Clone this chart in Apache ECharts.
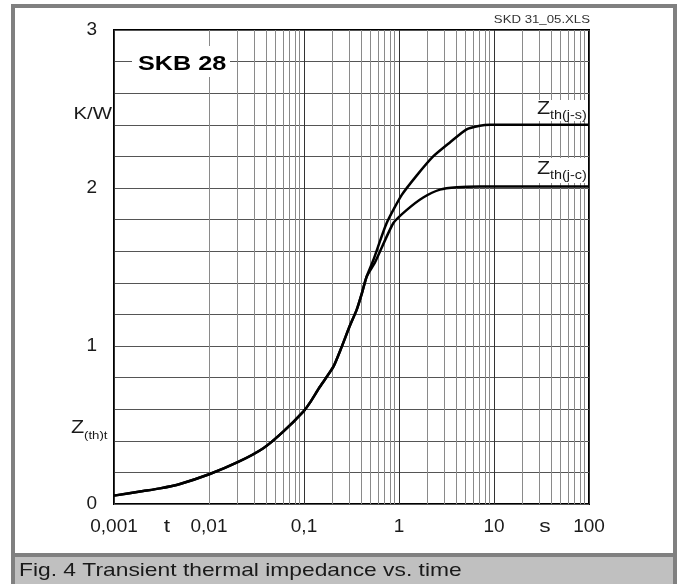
<!DOCTYPE html>
<html>
<head>
<meta charset="utf-8">
<script src="https://cdn.jsdelivr.net/npm/echarts@6/dist/echarts.min.js"></script>
<style>
  html, body { margin: 0; padding: 0; background: #fff; }
  #chart { width: 682px; height: 584px; }
</style>
</head>
<body>
<div id="chart"></div>
<script>
// shared rising part of both curves (t in s, Z in K/W)
const tShared = [0.001, 0.00203, 0.00305, 0.00495, 0.0102, 0.0203, 0.0373, 0.0604, 0.1, 0.115, 0.147, 0.204, 0.25, 0.30, 0.359, 0.405, 0.457];
const zShared = [0.053, 0.082, 0.099, 0.127, 0.19, 0.266, 0.353, 0.458, 0.59, 0.64, 0.742, 0.869, 0.996, 1.12, 1.23, 1.33, 1.44];

// Zth(j-s) tail
const tJs = [0.537, 0.74, 1.07, 1.54, 2.29, 3.46, 5.1, 7.1, 9.1, 100];
const zJs = [1.544, 1.777, 1.956, 2.08, 2.20, 2.29, 2.37, 2.394, 2.40, 2.40];

// Zth(j-c) tail
const tJc = [0.56, 0.87, 1.2, 1.8, 2.7, 4.06, 7.1, 100];
const zJc = [1.53, 1.777, 1.86, 1.94, 1.99, 2.005, 2.01, 2.01];

const decades = [0.001, 0.01, 0.1, 1, 10];
const xTickLabels = { 0.001: '0,001', 0.01: '0,01', 0.1: '0,1', 1: '1', 10: '10', 100: '100' };

const toPairs = (ts, zs) => ts.map((t, i) => [t, zs[i]]);
const jsData = toPairs(tShared, zShared).concat(toPairs(tJs, zJs));
const jcData = toPairs(tShared, zShared).concat(toPairs(tJc, zJc));

// minor vertical grid lines 2..9 in each decade
const minorLines = [];
decades.forEach(d => {
    for (let k = 2; k <= 9; k++) minorLines.push({ xAxis: +(k * d).toPrecision(3) });
});

const font = '"Liberation Sans", Arial, sans-serif';
const ink = '#1a1a1a';
const sx = 1.2; // the source lettering is a bit wider than Arial

// small helper for graphic text
const label = (x, y, text, size, extra) => Object.assign({
    type: 'text', x: x, y: y, scaleX: sx, z: 91,
    style: Object.assign({ text: text, fontSize: size, fontFamily: font, fill: ink, verticalAlign: 'middle' }, extra || {})
});

const chart = echarts.init(document.getElementById('chart'));

chart.setOption({
    animation: false,
    backgroundColor: '#fff',
    grid: {
        left: 114, right: 93, top: 30, bottom: 80,
        show: true, backgroundColor: '#fff', borderColor: '#000', borderWidth: 2
    },
    xAxis: {
        type: 'log', logBase: 10, min: 0.001, max: 100,
        axisLine: { show: false },
        axisTick: { show: false },
        splitLine: { show: true, lineStyle: { color: '#333', width: 1 } },
        axisLabel: {
            margin: 13, fontSize: 19, color: ink, fontFamily: font,
            formatter: v => {
                for (const k in xTickLabels) if (Math.abs(Math.log10(v) - Math.log10(+k)) < 1e-6) return xTickLabels[k];
                return '';
            }
        }
    },
    yAxis: {
        type: 'value', min: 0, max: 3, interval: 0.2,
        axisLine: { show: false },
        axisTick: { show: false },
        splitLine: { show: true, lineStyle: { color: '#555', width: 1 } },
        axisLabel: {
            margin: 17, fontSize: 19, color: ink, fontFamily: font,
            formatter: v => Math.abs(v - Math.round(v)) < 1e-6 ? String(Math.round(v)) : ''
        }
    },
    series: [
        {
            name: 'grid-minor',
            type: 'line',
            data: [],
            silent: true,
            markLine: {
                silent: true,
                symbol: 'none',
                label: { show: false },
                lineStyle: { color: '#8a8a8a', width: 1, type: 'solid' },
                data: minorLines
            }
        },
        {
            name: 'Zth(j-s)',
            type: 'line',
            data: jsData,
            showSymbol: false,
            smooth: 0.2,
            lineStyle: { color: '#000', width: 2.5 },
            z: 5
        },
        {
            name: 'Zth(j-c)',
            type: 'line',
            data: jcData,
            showSymbol: false,
            smooth: 0.2,
            lineStyle: { color: '#000', width: 2.5 },
            z: 5
        }
    ],
    graphic: [
        // outer frame and caption band
        { type: 'rect', shape: { x: 13, y: 6, width: 662, height: 620 }, style: { fill: 'none', stroke: '#808080', lineWidth: 4 }, z: 100 },
        { type: 'rect', shape: { x: 15, y: 557, width: 658, height: 30 }, style: { fill: '#c0c0c0' }, z: 100 },
        { type: 'rect', shape: { x: 15, y: 553, width: 658, height: 4 }, style: { fill: '#808080' }, z: 100 },
        Object.assign(label(19, 571, 'Fig. 4 Transient thermal impedance vs. time', 19), { z: 101 }),

        // file tag
        label(590, 20, 'SKD 31_05.XLS', 11, { align: 'right', fill: '#333' }),

        // device name with white box
        { type: 'rect', shape: { x: 132, y: 46, width: 98, height: 31 }, style: { fill: '#fff' }, z: 90 },
        label(138, 64, 'SKB 28', 21, { fontWeight: 'bold', fill: '#000' }),

        // unit and axis names
        label(112, 114, 'K/W', 17, { align: 'right' }),
        label(71, 428, 'Z', 18),
        label(84, 436, '(th)t', 11),
        label(167, 527, 't', 19, { align: 'center' }),
        label(545, 527, 's', 19, { align: 'center' }),

        // curve labels
        { type: 'rect', shape: { x: 533, y: 100, width: 55, height: 21 }, style: { fill: '#fff' }, z: 90 },
        label(537, 109, 'Z', 18),
        label(550, 116, 'th(j-s)', 12),
        { type: 'rect', shape: { x: 533, y: 158, width: 55, height: 25 }, style: { fill: '#fff' }, z: 90 },
        label(537, 169, 'Z', 18),
        label(550, 176, 'th(j-c)', 12)
    ]
});
</script>
</body>
</html>
